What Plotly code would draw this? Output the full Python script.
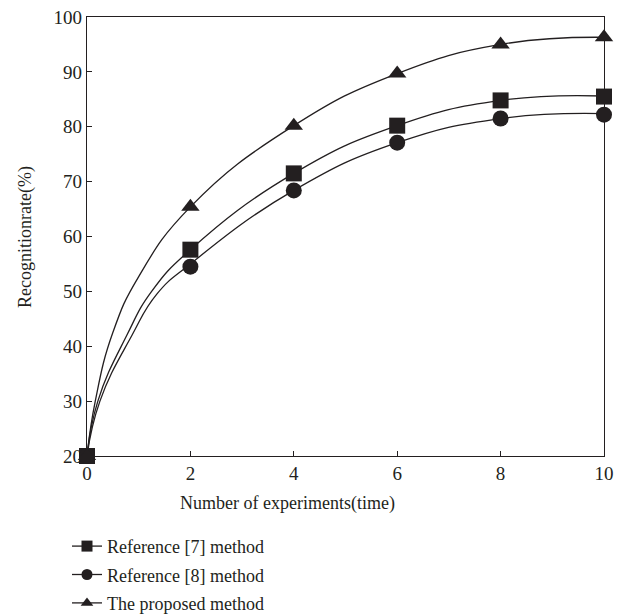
import plotly.graph_objects as go

# Measured points (markers)
x_points = [0, 2, 4, 6, 8, 10]
ref7_points = [20, 57.6, 71.5, 80.2, 84.8, 85.5]
ref8_points = [20, 54.5, 68.4, 77.1, 81.5, 82.2]
proposed_points = [20, 65.4, 80.2, 89.7, 95.0, 96.3]

# Fitted curves
ref7_curve_x = [0, 0.21, 0.77, 1.25, 2, 4, 6, 8, 10]
ref7_curve_y = [20, 30, 42, 50, 57.6, 71.5, 80.2, 84.8, 85.6]
ref8_curve_x = [0, 0.25, 0.87, 1.35, 2, 4, 6, 8, 10]
ref8_curve_y = [20, 30, 42, 49.5, 55.0, 68.4, 77.1, 81.5, 82.4]
proposed_curve_x = [0, 0.16, 0.5, 1.0, 2, 4, 6, 8, 10]
proposed_curve_y = [20, 30, 42.5, 52.7, 65.4, 80.2, 89.7, 95.0, 96.3]

series_names = ["Reference [7] method", "Reference [8] method", "The proposed method"]
x_ticks = [0, 2, 4, 6, 8, 10]
y_ticks = [20, 30, 40, 50, 60, 70, 80, 90, 100]
x_title = "Number of experiments(time)"
y_title = "Recognitionrate(%)"

INK = "#231f20"
FONT = "Liberation Serif"

series = [
    (series_names[0], ref7_curve_x, ref7_curve_y, ref7_points, "square"),
    (series_names[1], ref8_curve_x, ref8_curve_y, ref8_points, "circle"),
    (series_names[2], proposed_curve_x, proposed_curve_y, proposed_points, "triangle-up"),
]

fig = go.Figure()
for i, (name, cx, cy, py, sym) in enumerate(series):
    fig.add_trace(go.Scatter(
        x=cx, y=cy, mode="lines", line=dict(color=INK, width=1.3, shape="spline", smoothing=1.3),
        showlegend=False, hoverinfo="skip", cliponaxis=False))
    fig.add_trace(go.Scatter(
        x=x_points, y=py, mode="markers",
        marker=dict(symbol=sym, size=16, color=INK, line=dict(width=0)),
        showlegend=False, cliponaxis=False))
    fig.add_trace(go.Scatter(
        x=[None], y=[None], mode="lines+markers", name=name, legendgroup="g%d" % i,
        line=dict(color=INK, width=1.3),
        marker=dict(symbol=sym, size=11, color=INK)))

# The page body adds an 8 px offset; the figure is sized to fit the window
fig.update_layout(
    width=621, height=607,
    margin=dict(l=79, r=25, t=9, b=159, autoexpand=False),
    paper_bgcolor="white", plot_bgcolor="white",
    font=dict(family=FONT, size=19, color=INK),
    showlegend=True,
    legend=dict(xref="container", yref="container", x=0.095, y=0.1435,
                xanchor="left", yanchor="top",
                bgcolor="rgba(0,0,0,0)", itemwidth=30,
                font=dict(family=FONT, size=18, color=INK),
                tracegroupgap=2),
    annotations=[
        dict(text=x_title, xref="paper", yref="paper", x=0.387, y=-0.109,
             xanchor="center", yanchor="middle", showarrow=False,
             font=dict(family=FONT, size=18, color=INK)),
        dict(text=y_title, xref="paper", yref="paper", x=-0.119, y=0.5,
             xanchor="center", yanchor="middle", showarrow=False, textangle=-90,
             font=dict(family=FONT, size=18, color=INK)),
    ],
)
fig.update_xaxes(
    range=[0, 10], tickvals=x_ticks, ticktext=[str(v) for v in x_ticks],
    showline=True, mirror=True, linecolor=INK, linewidth=1.2,
    ticks="inside", ticklen=5, tickcolor=INK, showgrid=False, zeroline=False,
    automargin=False, ticklabeloverflow="allow",
)
fig.update_yaxes(
    range=[20, 100], tickvals=y_ticks, ticktext=[str(v) for v in y_ticks],
    showline=True, mirror=True, linecolor=INK, linewidth=1.2,
    ticks="inside", ticklen=5, tickcolor=INK, showgrid=False, zeroline=False,
    automargin=False, ticklabeloverflow="allow",
)

fig.write_html("out.html")
